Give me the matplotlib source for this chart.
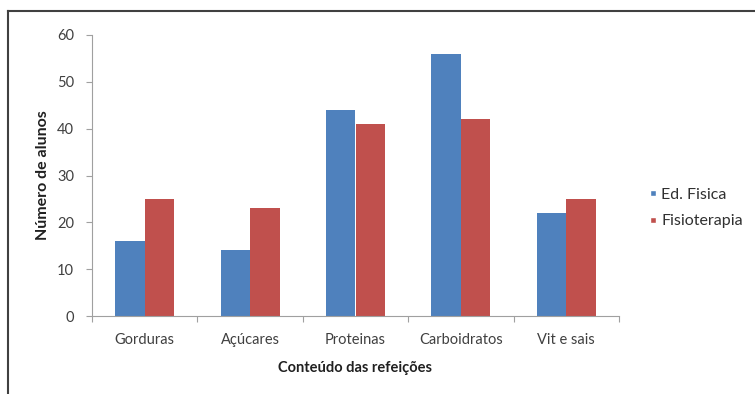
import numpy as np
import matplotlib.pyplot as plt
from matplotlib.lines import Line2D

categories = ["Gorduras", "Açúcares", "Proteinas", "Carboidratos", "Vit e sais"]
ed_fisica = [16, 14, 44, 56, 22]
fisioterapia = [25, 23, 41, 42, 25]
series_names = ["Ed. Fisica", "Fisioterapia"]

plt.rcParams['font.family'] = ['Lato', 'DejaVu Sans']

fig = plt.figure(figsize=(7.55, 3.94), dpi=100)
ax = fig.add_axes([92 / 755, 1 - 316 / 394, (619 - 92) / 755, (316 - 35) / 394])

x = np.arange(len(categories))
w = 0.28
ax.bar(x - w / 2, ed_fisica, w, color='#4F81BD', label=series_names[0])
ax.bar(x + w / 2, fisioterapia, w, color='#C0504D', label=series_names[1])

ax.set_xlim(-0.5, len(categories) - 0.5)
ax.set_ylim(0, 60)
ax.set_yticks(range(0, 61, 10))

# x ticks sit between categories, labels centred under groups
ax.set_xticks(np.arange(-0.5, len(categories), 1.0))
ax.set_xticklabels([])
ax.set_xticks(x, minor=True)
ax.set_xticklabels(categories, minor=True)
ax.tick_params(axis='x', which='minor', length=0, pad=12, labelsize=10.5, labelcolor='#404040')
ax.tick_params(axis='x', which='major', length=4, color='#A0A0A0')
ax.tick_params(axis='y', length=4, color='#A0A0A0', labelsize=10.5, labelcolor='#404040', pad=9)

for side in ['top', 'right']:
    ax.spines[side].set_visible(False)
for side in ['left', 'bottom']:
    ax.spines[side].set_color('#A0A0A0')

ax.set_xlabel("Conteúdo das refeições", fontsize=10.5, fontweight='bold', color='#202020', labelpad=10)
ax.set_ylabel("Número de alunos", fontsize=11.5, fontweight='bold', color='#202020', labelpad=5)

handles = [Line2D([0], [0], marker='s', color='w', markerfacecolor=c, markersize=5, label=l)
           for c, l in [('#4F81BD', series_names[0]), ('#C0504D', series_names[1])]]
fig.legend(handles=handles, loc='center left', bbox_to_anchor=(631 / 755, 1 - 208 / 394),
           frameon=False, fontsize=11.5, handletextpad=0.0, labelspacing=0.75, handlelength=1.0,
           labelcolor='#303030')

# outer chart border (left and top edges visible)
fig.add_artist(Line2D([8 / 755, 8 / 755], [0, 1 - 11 / 394], color='#404040', lw=1.5,
                      transform=fig.transFigure))
fig.add_artist(Line2D([8 / 755, 1], [1 - 11 / 394, 1 - 11 / 394], color='#404040', lw=1.5,
                      transform=fig.transFigure))

fig.savefig("out.png", dpi=100)
